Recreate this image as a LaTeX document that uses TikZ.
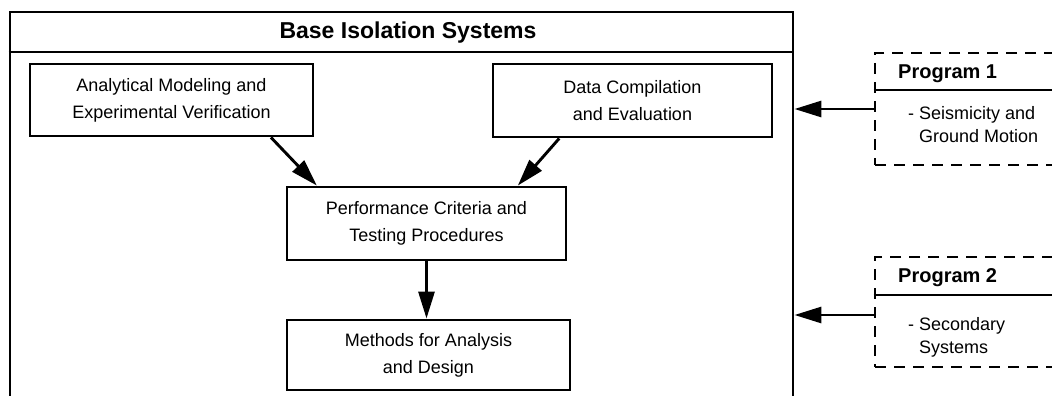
\documentclass[tikz,border=0pt]{standalone}
\usepackage{fontspec}
\setmainfont{Liberation Sans}
\usetikzlibrary{arrows.meta,calc}
\begin{document}
\begin{tikzpicture}[x=1pt,y=-1pt,
  lw/.style={line width=2.9pt},
  box/.style={draw,lw,rectangle,inner sep=0pt,align=center,
    font=\fontsize{18}{27}\selectfont},
  prog/.style={draw,lw,rectangle,inner sep=0pt,
    dash pattern=on 11pt off 8pt},
  arr/.style={lw,-{Triangle[length=27pt,width=16pt]}},
  ttl/.style={font=\fontsize{20}{22}\selectfont\bfseries,inner sep=0pt,anchor=base west},
  txt/.style={font=\fontsize{18}{23}\selectfont,inner sep=0pt,anchor=base west,align=left},
]
\useasboundingbox (0,0) rectangle (1052,396);

% main system frame (open at the bottom)
\node[draw,lw,rectangle,inner sep=0pt,minimum width=783pt,minimum height=430pt] (sys) at (401.5,227) {};
\coordinate (tl) at (0,52);
\draw[lw] (sys.west |- tl) -- (sys.east |- tl);
\node[font=\fontsize{23}{26}\selectfont\bfseries,inner sep=0pt] (title) at (408,33) {Base Isolation Systems};

% task boxes
\node[box,minimum width=283pt,minimum height=72pt] (A) at (171.5,100)
  {Analytical Modeling and\\Experimental Verification};
\node[box,minimum width=279pt,minimum height=73pt] (B) at (632.5,100.5)
  {Data Compilation\\and Evaluation};
\node[box,minimum width=279pt,minimum height=73pt] (C) at (426.5,223.5)
  {Performance Criteria and\\Testing Procedures};
\node[box,minimum width=283pt,minimum height=70pt] (D) at (428.5,355)
  {Methods for Analysis\\and Design};

\draw[arr] ($(A.south west)!0.848!(A.south east)$) -- ($(C.north west)!0.111!(C.north east)$);
\draw[arr] ($(B.south west)!0.24!(B.south east)$) -- ($(C.north west)!0.824!(C.north east)$);
\draw[arr] (C.south) -- (C.south |- D.north);

% external programs
\node[prog,minimum width=205pt,minimum height=112pt] (p1) at (977.5,109) {};
\coordinate (s1) at (0,90);
\draw[lw] (p1.west |- s1) -- (p1.east |- s1);
\node[ttl] (p1t) at (898,78) {Program 1};
\node[txt] (p1d) at (908,142) {-\ Seismicity and\\\hphantom{-\ }Ground Motion};

\node[prog,minimum width=205pt,minimum height=110pt] (p2) at (977.5,312) {};
\coordinate (s2) at (0,295);
\draw[lw] (p2.west |- s2) -- (p2.east |- s2);
\node[ttl] (p2t) at (898,282) {Program 2};
\node[txt] (p2d) at (908,353) {-\ Secondary\\\hphantom{-\ }Systems};

\coordinate (a2) at ([yshift=-3pt]p2.west);
\draw[arr] (p1.west) -- (sys.east |- p1.west);
\draw[arr] (a2) -- (sys.east |- a2);
\end{tikzpicture}
\end{document}
